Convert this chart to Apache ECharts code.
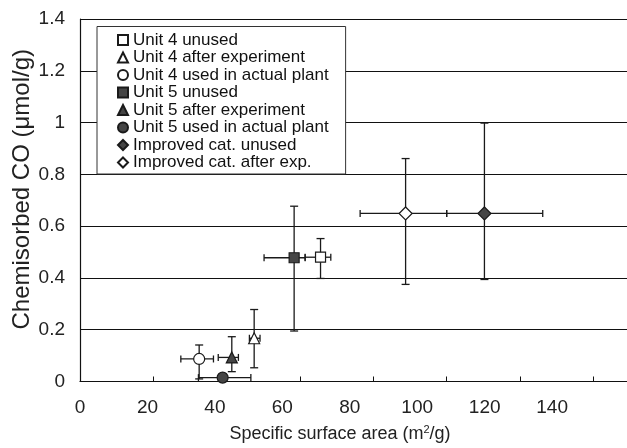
<!DOCTYPE html>
<html>
<head>
<meta charset="utf-8">
<script src="https://cdn.jsdelivr.net/npm/echarts@6/dist/echarts.min.js"></script>
<style>
  html, body { margin: 0; padding: 0; background: #fff; }
  #chart { width: 627px; height: 448px; }
</style>
</head>
<body>
<div id="chart"></div>
<script>
// samples, in legend order
var names = [
  "Unit 4 unused",
  "Unit 4 after experiment",
  "Unit 4 used in actual plant",
  "Unit 5 unused",
  "Unit 5 after experiment",
  "Unit 5 used in actual plant",
  "Improved cat. unused",
  "Improved cat. after exp."
];
// specific surface area (m2/g)
var surfaceArea = [65.6, 47.5, 32.5, 58.4, 41.4, 38.9, 110.3, 88.8];
var areaLow = [61.4, 46.2, 27.5, 50.2, 37.7, 32.3, 100.0, 76.4];
var areaHigh = [68.4, 49.1, 36.4, 61.4, 43.2, 46.6, 126.2, 100.0];
// chemisorbed CO (umol/g)
var chemisorbedCO = [0.48, 0.167, 0.087, 0.478, 0.093, 0.015, 0.649, 0.649];
var coLow = [0.398, 0.053, 0.01, 0.195, 0.038, 0.015, 0.394, 0.375];
var coHigh = [0.552, 0.278, 0.141, 0.677, 0.173, 0.015, 0.998, 0.861];

var symbols = ["rect", "triangle", "circle", "rect", "triangle", "circle", "diamond", "diamond"];
var symbolSizes = [10, 11, 11, 10, 11, 11, 13, 13];
var filled = [false, false, false, true, true, true, true, false];

var FONT = "Liberation Sans, Arial, sans-serif";
var chart = echarts.init(document.getElementById("chart"));

var series = names.map(function (name, i) {
  return {
    name: name,
    type: "scatter",
    xAxisIndex: 0,
    symbol: symbols[i],
    symbolSize: symbolSizes[i],
    itemStyle: {
      color: filled[i] ? "#454545" : "#ffffff",
      borderColor: "#1a1a1a",
      borderWidth: 1.2,
      opacity: 1
    },
    z: 5,
    data: [[surfaceArea[i], chemisorbedCO[i]]]
  };
});

// error bars with caps
var errData = names.map(function (n, i) {
  return [surfaceArea[i], chemisorbedCO[i], areaLow[i], areaHigh[i], coLow[i], coHigh[i]];
});

series.push({
  name: "err",
  type: "custom",
  xAxisIndex: 0,
  clip: false,
  z: 3,
  silent: true,
  encode: { x: [0, 2, 3], y: [1, 4, 5] },
  renderItem: function (params, api) {
    var p = api.coord([api.value(0), api.value(1)]);
    var l = api.coord([api.value(2), api.value(1)]);
    var r = api.coord([api.value(3), api.value(1)]);
    var b = api.coord([api.value(0), api.value(4)]);
    var t = api.coord([api.value(0), api.value(5)]);
    var st = { stroke: "#1a1a1a", lineWidth: 1.3 };
    var kids = [];
    var cw = 4; // half cap
    function line(x1, y1, x2, y2) {
      kids.push({ type: "line", shape: { x1: x1, y1: y1, x2: x2, y2: y2 }, style: st });
    }
    if (r[0] - l[0] > 1) {
      line(l[0], p[1], r[0], p[1]);
      line(l[0], p[1] - 3.5, l[0], p[1] + 3.5);
      line(r[0], p[1] - 3.5, r[0], p[1] + 3.5);
    }
    if (b[1] - t[1] > 1) {
      line(p[0], t[1], p[0], b[1]);
      line(p[0] - cw, t[1], p[0] + cw, t[1]);
      line(p[0] - cw, b[1], p[0] + cw, b[1]);
    }
    return { type: "group", children: kids };
  },
  data: errData
});

var option = {
  animation: false,
  backgroundColor: "#ffffff",
  grid: { left: 80, top: 19, width: 550, height: 362.5, outerBoundsMode: "none", containLabel: false },
  legend: {
    data: names,
    orient: "vertical",
    left: 97,
    top: 26.5,
    padding: [5, 17, 3, 20],
    itemWidth: 10,
    itemHeight: 10,
    itemGap: 0.5,
    backgroundColor: "#ffffff",
    borderColor: "#333333",
    borderWidth: 1,
    borderRadius: 0,
    z: 10,
    textStyle: { fontFamily: FONT, fontSize: 17, lineHeight: 16, color: "#111" }
  },
  xAxis: [
    {
      // data axis (ticks)
      type: "value",
      position: "bottom",
      min: 0,
      max: 150,
      interval: 20,
      axisLine: { show: true, onZero: false, lineStyle: { color: "#111", width: 1.2 } },
      axisTick: { show: true, inside: true, length: 5, lineStyle: { color: "#111" } },
      axisLabel: { show: false },
      splitLine: { show: false }
    },
    {
      // label axis, as printed
      type: "value",
      position: "bottom",
      min: 0,
      max: 163.1,
      interval: 20,
      axisLine: { show: false },
      axisTick: { show: false },
      splitLine: { show: false },
      axisLabel: {
        margin: 17,
        fontFamily: FONT,
        fontSize: 19,
        color: "#222",
        formatter: function (v) { return v > 140 ? "" : String(v); }
      },
      name: "{a|Specific surface area (m}{s|2}{a|/g)}",
      nameLocation: "middle",
      nameGap: 43,
      nameMoveOverlap: false,
      nameTextStyle: {
        padding: [0, 30, 0, 0],
        rich: {
          a: { fontFamily: FONT, fontSize: 18, color: "#222" },
          s: { fontFamily: FONT, fontSize: 11, color: "#222", padding: [0, 0, 8, 0] }
        }
      }
    }
  ],
  yAxis: {
    type: "value",
    min: 0,
    max: 1.4,
    interval: 0.2,
    axisLine: { show: true, lineStyle: { color: "#111", width: 1.2 } },
    axisTick: { show: false },
    splitLine: { show: true, lineStyle: { color: "#111", width: 1.2 } },
    axisLabel: { margin: 15, fontFamily: FONT, fontSize: 19, color: "#222" },
    name: "Chemisorbed CO (\u03bcmol/g)",
    nameLocation: "middle",
    nameGap: 46,
    nameMoveOverlap: false,
    nameTextStyle: { fontFamily: FONT, fontSize: 24, color: "#222", padding: [0, 0, 0, 22] }
  },
  series: series
};

option && chart.setOption(option);
</script>
</body>
</html>
